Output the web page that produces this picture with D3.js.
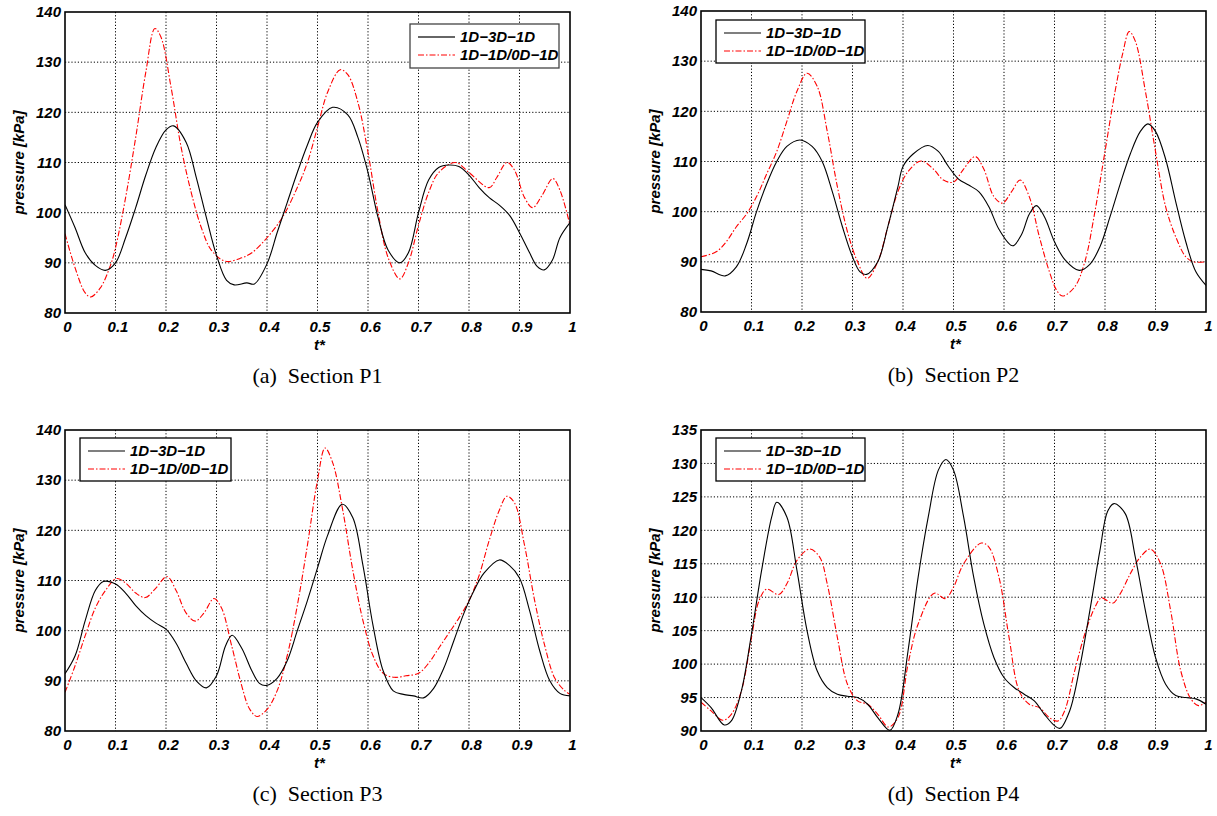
<!DOCTYPE html>
<html><head><meta charset="utf-8">
<script src="https://cdn.jsdelivr.net/npm/d3@7"></script>
<style>
body{margin:0;background:#fff;}
svg{display:block;}
</style>
</head><body>
<svg id="chart" width="1217" height="816"></svg>
<script>
// ---------- data ----------
const xTicks = [0,0.1,0.2,0.3,0.4,0.5,0.6,0.7,0.8,0.9,1];
const xTickLabels = ["0","0.1","0.2","0.3","0.4","0.5","0.6","0.7","0.8","0.9","1"];
const yTicksA = [80,90,100,110,120,130,140];
const yTicksD = [90,95,100,105,110,115,120,125,130,135];
const seriesNames = ["1D\u22123D\u22121D","1D\u22121D/0D\u22121D"];
const captions = ["(a)  Section P1","(b)  Section P2","(c)  Section P3","(d)  Section P4"];

const P1_3D = [[0,101.6],[0.02,97],[0.04,92],[0.06,89.5],[0.08,88.5],[0.1,90],[0.12,95],[0.14,101],[0.16,107.5],[0.18,113],[0.2,116.5],[0.215,117.3],[0.24,114],[0.26,107],[0.28,99],[0.3,91.5],[0.32,86.5],[0.335,85.6],[0.36,86],[0.375,85.8],[0.4,89.8],[0.42,96],[0.44,102],[0.46,108],[0.48,113.5],[0.5,118],[0.53,121],[0.56,119.5],[0.58,115],[0.6,108],[0.62,99],[0.64,92.5],[0.663,90],[0.68,92],[0.7,100],[0.72,106.5],[0.74,109],[0.76,109.5],[0.78,109.2],[0.8,107.5],[0.82,105],[0.84,103],[0.86,101.5],[0.88,99.5],[0.9,96],[0.92,92],[0.935,89.3],[0.949,88.6],[0.965,90.5],[0.98,95],[1,98]];
const P1_0D = [[0,95.8],[0.02,89],[0.04,84],[0.051,83.2],[0.07,85],[0.09,89.5],[0.1,93],[0.12,103],[0.14,115],[0.16,128],[0.178,136.7],[0.19,135],[0.21,125],[0.23,113],[0.25,104],[0.27,97],[0.29,92.5],[0.318,90.3],[0.35,91],[0.37,92],[0.4,95],[0.43,99],[0.46,105],[0.48,110],[0.5,117],[0.52,124],[0.545,128.5],[0.56,127.5],[0.58,122],[0.6,112],[0.62,100],[0.64,91],[0.663,86.8],[0.68,90],[0.7,97.5],[0.72,104],[0.74,108],[0.773,110],[0.8,108],[0.84,105],[0.855,107],[0.875,110],[0.89,108.5],[0.91,103],[0.926,101],[0.945,103.5],[0.966,106.8],[0.98,104.5],[1,97.5]];

const P2_3D = [[0,88.5],[0.02,88.2],[0.048,87.2],[0.07,89],[0.09,93.5],[0.11,100],[0.13,105.5],[0.15,110],[0.17,113],[0.196,114.3],[0.22,113],[0.24,110],[0.26,104],[0.28,97],[0.3,91],[0.315,88],[0.328,87.5],[0.35,90],[0.37,97],[0.39,105],[0.4,109],[0.42,111.5],[0.449,113.2],[0.47,112],[0.49,109],[0.51,106.5],[0.53,105.3],[0.55,104],[0.57,101],[0.59,96.5],[0.617,93.2],[0.635,95.5],[0.65,99.5],[0.664,101.2],[0.68,99],[0.7,94],[0.72,90.5],[0.749,88.3],[0.77,89.5],[0.79,93],[0.81,99],[0.83,105.5],[0.85,111.5],[0.87,116],[0.885,117.5],[0.9,116],[0.92,110.5],[0.94,102],[0.96,94],[0.98,88],[1,85.3]];
const P2_0D = [[0,91],[0.03,92],[0.05,94],[0.07,97],[0.09,99.5],[0.11,103],[0.13,107.5],[0.15,112],[0.17,118],[0.19,124],[0.21,127.6],[0.23,125],[0.25,116],[0.27,105],[0.29,96],[0.31,90],[0.329,86.7],[0.35,90],[0.37,97],[0.39,104],[0.41,108],[0.436,110.1],[0.46,108.5],[0.48,106.3],[0.5,105.9],[0.52,108.5],[0.543,111],[0.56,108.5],[0.58,103],[0.597,101.7],[0.615,104],[0.632,106.3],[0.65,103],[0.67,95],[0.69,88],[0.705,84.2],[0.716,83.2],[0.74,85],[0.76,90],[0.78,100],[0.8,112],[0.82,124],[0.835,131.5],[0.848,135.9],[0.86,134],[0.88,124],[0.9,112],[0.92,101],[0.94,95],[0.96,91],[0.975,90],[1,90]];

const P3_3D = [[0,91.4],[0.02,95],[0.04,102],[0.06,108],[0.076,109.8],[0.1,109.3],[0.12,107.5],[0.14,105],[0.16,103],[0.18,101.5],[0.2,100.3],[0.22,97.5],[0.24,93.5],[0.26,90],[0.28,88.6],[0.3,91],[0.318,97],[0.331,99.1],[0.35,96.5],[0.37,92],[0.385,89.5],[0.399,89.1],[0.42,90.5],[0.44,94],[0.46,100],[0.48,106],[0.5,112.5],[0.52,119],[0.549,125.2],[0.57,122.5],[0.59,113],[0.61,101],[0.63,92],[0.65,88],[0.67,87.3],[0.69,87],[0.71,86.6],[0.73,88.5],[0.75,92.5],[0.77,98],[0.79,103.5],[0.81,108],[0.83,111.5],[0.86,114.1],[0.88,113],[0.9,110.5],[0.92,104],[0.94,96],[0.96,90],[0.98,87.5],[1,87]];
const P3_0D = [[0,87.7],[0.02,93],[0.04,99],[0.06,104.5],[0.08,108],[0.102,110.4],[0.12,109.5],[0.14,107.5],[0.159,106.6],[0.18,108.5],[0.202,110.8],[0.22,108],[0.24,103.5],[0.258,101.9],[0.275,103.5],[0.295,106.4],[0.31,104.5],[0.33,97],[0.35,89],[0.365,84.5],[0.38,82.9],[0.4,84.3],[0.42,88],[0.44,95],[0.46,105],[0.48,117],[0.5,130],[0.515,136.4],[0.53,133.5],[0.55,124],[0.57,112],[0.59,102],[0.61,95],[0.63,91.5],[0.652,90.7],[0.675,91],[0.7,91.5],[0.72,93.5],[0.74,96.5],[0.76,99.5],[0.78,102.5],[0.8,106],[0.82,111],[0.84,118],[0.86,124],[0.875,126.8],[0.89,125.5],[0.91,117],[0.93,106],[0.95,97],[0.97,90.5],[0.99,88],[1,87.3]];

const P4_3D = [[0,95],[0.02,93.5],[0.046,90.9],[0.06,91.5],[0.08,96],[0.1,104.5],[0.12,114],[0.14,122],[0.15,124.2],[0.17,122],[0.19,114],[0.21,105],[0.23,99],[0.25,96.5],[0.27,95.5],[0.29,95.2],[0.31,95],[0.33,94],[0.35,92],[0.374,90.1],[0.39,92.5],[0.41,102],[0.43,113],[0.45,122],[0.47,129],[0.485,130.6],[0.5,129],[0.52,122],[0.54,113],[0.56,106],[0.58,101],[0.6,98],[0.62,96.5],[0.64,95.5],[0.66,94.5],[0.68,92.5],[0.7,90.8],[0.711,90.4],[0.73,93],[0.75,99.5],[0.77,108],[0.79,117],[0.805,122.8],[0.818,124],[0.84,122.5],[0.86,116],[0.88,108],[0.9,101],[0.92,97],[0.94,95.3],[0.96,95],[0.98,94.8],[1,94]];
const P4_0D = [[0,94.3],[0.02,93],[0.043,91.6],[0.06,92.5],[0.08,96],[0.1,104],[0.115,109.5],[0.13,111.2],[0.154,110.4],[0.17,112],[0.19,115.5],[0.215,117.2],[0.235,116],[0.25,112],[0.27,104],[0.29,97],[0.31,94.5],[0.33,94],[0.35,92.5],[0.371,90.6],[0.39,92],[0.41,100],[0.43,106],[0.462,110.6],[0.484,109.8],[0.5,111.5],[0.52,115],[0.555,118.1],[0.57,117.5],[0.59,113],[0.61,104],[0.63,96],[0.65,94],[0.67,93.5],[0.69,92],[0.707,91.5],[0.72,93],[0.74,99],[0.76,104.5],[0.78,108.5],[0.793,109.9],[0.815,109.1],[0.83,110.5],[0.85,113.5],[0.87,116],[0.89,117.2],[0.91,115],[0.93,108],[0.95,99],[0.97,94.8],[0.985,93.8],[1,94.3]];

// ---------- layout ----------
const panels = [
  {x0:65,  x1:570,  y0:12,  y1:313, yDom:[80,140], yTicks:yTicksA, data:[P1_3D,P1_0D], cap:captions[0],
   leg:{x:410,y:24,w:149,h:44,legGray:true}},
  {x0:701, x1:1206, y0:11,  y1:312, yDom:[80,140], yTicks:yTicksA, data:[P2_3D,P2_0D], cap:captions[1],
   leg:{x:716,y:20,w:149,h:43}},
  {x0:65,  x1:570,  y0:430, y1:731, yDom:[80,140], yTicks:yTicksA, data:[P3_3D,P3_0D], cap:captions[2],
   leg:{x:80,y:438,w:151,h:43}},
  {x0:701, x1:1206, y0:430, y1:731, yDom:[90,135], yTicks:yTicksD, data:[P4_3D,P4_0D], cap:captions[3],
   leg:{x:716,y:438,w:149,h:43}}
];

const svg = d3.select("#chart");
svg.append("rect").attr("width",1217).attr("height",816).attr("fill","#fff");
const FONT = '"Liberation Sans",Arial,sans-serif';

panels.forEach((P,i)=>{
  const x = d3.scaleLinear().domain([0,1]).range([P.x0,P.x1]);
  const y = d3.scaleLinear().domain(P.yDom).range([P.y1,P.y0]);
  const g = svg.append("g");

  // grid
  g.append("g").selectAll("line").data(xTicks.slice(1,-1)).join("line")
    .attr("x1",d=>x(d)).attr("x2",d=>x(d)).attr("y1",P.y0).attr("y2",P.y1)
    .attr("stroke","#000").attr("stroke-width",1).attr("stroke-dasharray","1.2,2");
  g.append("g").selectAll("line").data(P.yTicks.slice(1,-1)).join("line")
    .attr("x1",P.x0).attr("x2",P.x1).attr("y1",d=>y(d)).attr("y2",d=>y(d))
    .attr("stroke","#000").attr("stroke-width",1).attr("stroke-dasharray","1.2,2");

  // axes (labels only)
  const ax = g.append("g").attr("transform",`translate(0,${P.y1})`)
    .call(d3.axisBottom(x).tickValues(xTicks).tickFormat((d,k)=>xTickLabels[k]).tickSize(0).tickPadding(8));
  ax.select(".domain").remove();
  ax.selectAll("text").attr("font-size",15).attr("font-family",FONT).attr("font-weight","bold").attr("font-style","italic").attr("dx",2);
  const ay = g.append("g").attr("transform",`translate(${P.x0},0)`)
    .call(d3.axisLeft(y).tickValues(P.yTicks).tickFormat(d3.format("d")).tickSize(0).tickPadding(4));
  ay.select(".domain").remove();
  ay.selectAll("text").attr("font-size",15).attr("font-family",FONT).attr("font-weight","bold").attr("font-style","italic");

  // curves
  const line = d3.line().x(d=>x(d[0])).y(d=>y(d[1])).curve(d3.curveCatmullRom.alpha(0.5));
  const clipId = "clip"+i;
  svg.append("clipPath").attr("id",clipId).append("rect")
    .attr("x",P.x0).attr("y",P.y0).attr("width",P.x1-P.x0).attr("height",P.y1-P.y0);
  const cg = g.append("g").attr("clip-path",`url(#${clipId})`);
  cg.append("path").datum(P.data[1]).attr("d",line).attr("fill","none")
    .attr("stroke","#ff0000").attr("stroke-width",1.1).attr("stroke-dasharray","6,2,1.5,2");
  cg.append("path").datum(P.data[0]).attr("d",line).attr("fill","none")
    .attr("stroke","#000").attr("stroke-width",1.1);

  // frame
  g.append("rect").attr("x",P.x0).attr("y",P.y0).attr("width",P.x1-P.x0).attr("height",P.y1-P.y0)
    .attr("fill","none").attr("stroke","#000").attr("stroke-width",1.6);

  // axis titles
  g.append("text").attr("x",(P.x0+P.x1)/2+2).attr("y",P.y1+37).attr("text-anchor","middle")
    .attr("font-family",FONT).attr("font-weight","bold").attr("font-style","italic").attr("font-size",15).text("t*");
  g.append("text").attr("transform",`translate(${P.x0-46},${(P.y0+P.y1)/2}) rotate(-90)`)
    .attr("text-anchor","middle").attr("dy","0.35em")
    .attr("font-family",FONT).attr("font-weight","bold").attr("font-style","italic").attr("font-size",15).text("pressure [kPa]");

  // caption
  g.append("text").attr("x",(P.x0+P.x1)/2).attr("y",P.y1+70).attr("text-anchor","middle")
    .attr("font-family",'"Liberation Serif","Times New Roman",serif').attr("font-size",22).attr("xml:space","preserve")
    .text(P.cap);

  // legend
  const L = P.leg;
  const lg = g.append("g");
  lg.append("rect").attr("x",L.x).attr("y",L.y).attr("width",L.w).attr("height",L.h)
    .attr("fill","#fff").attr("stroke",L.legGray?"#444":"#000").attr("stroke-width",1.3);
  const rows = [L.y+13, L.y+31];
  lg.append("line").attr("x1",L.x+8).attr("x2",L.x+45).attr("y1",rows[0]).attr("y2",rows[0])
    .attr("stroke",L.legGray?"#666":"#000").attr("stroke-width",L.legGray?2:1.1);
  lg.append("line").attr("x1",L.x+8).attr("x2",L.x+45).attr("y1",rows[1]).attr("y2",rows[1])
    .attr("stroke","#ff0000").attr("stroke-width",1.1).attr("stroke-dasharray","6,2,1.5,2");
  seriesNames.forEach((n,k)=>{
    lg.append("text").attr("x",L.x+50).attr("y",rows[k]).attr("dy","0.36em")
      .attr("font-family",FONT).attr("font-weight","bold").attr("font-style","italic").attr("font-size",15).text(n);
  });
});
</script>
</body></html>
